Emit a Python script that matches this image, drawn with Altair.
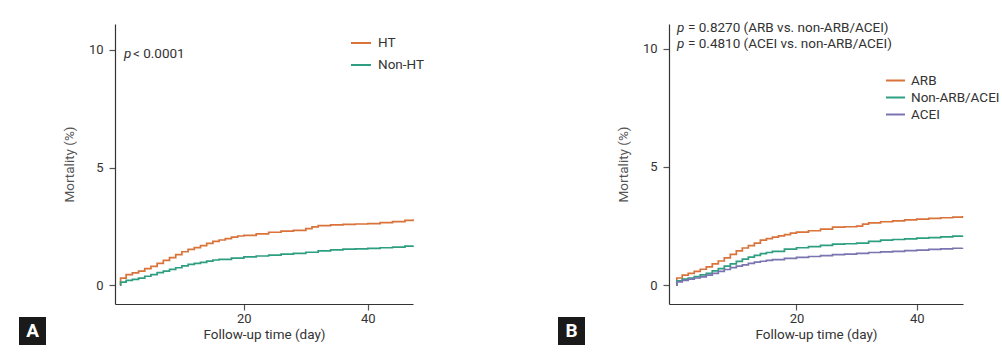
import altair as alt
import pandas as pd

FONT = "Roboto"
TXT = "#333333"

# ---- Panel A data (cumulative mortality %, step curves) ----
a_groups = ["HT", "Non-HT"]
ht_t = [0, 0.1, 1, 2, 3, 4, 5, 6, 7, 8, 9, 10, 11, 12, 13, 14, 15, 16, 17, 18, 19, 20,
        22, 24, 26, 28, 30, 31, 32, 34, 36, 38, 40, 42, 44, 46, 47.3]
ht_v = [0, 0.3, 0.45, 0.52, 0.6, 0.7, 0.8, 0.93, 1.05, 1.17, 1.3, 1.42, 1.52, 1.6, 1.68, 1.78,
        1.86, 1.92, 1.98, 2.04, 2.09, 2.12, 2.18, 2.25, 2.3, 2.33, 2.4, 2.48, 2.53, 2.56, 2.58,
        2.6, 2.62, 2.66, 2.7, 2.75, 2.8]
nht_t = [0, 0.1, 1, 2, 3, 4, 5, 6, 7, 8, 9, 10, 11, 12, 13, 14, 15, 16, 18, 20, 22, 24, 26,
         28, 30, 32, 34, 36, 38, 40, 42, 44, 46, 47.3]
nht_v = [0, 0.13, 0.2, 0.25, 0.3, 0.38, 0.45, 0.53, 0.6, 0.67, 0.74, 0.82, 0.88, 0.93, 0.97,
         1.02, 1.07, 1.1, 1.15, 1.2, 1.24, 1.28, 1.32, 1.35, 1.4, 1.46, 1.5, 1.53, 1.54, 1.56,
         1.59, 1.62, 1.66, 1.69]

# ---- Panel B data ----
b_groups = ["ARB", "Non-ARB/ACEI", "ACEI"]
arb_t = [0, 0.1, 1, 2, 3, 4, 5, 6, 7, 8, 9, 10, 11, 12, 13, 14, 15, 16, 17, 18, 19, 20, 22,
         24, 26, 28, 30, 31, 32, 34, 36, 38, 40, 42, 44, 46, 47.6]
arb_v = [0, 0.3, 0.42, 0.5, 0.58, 0.67, 0.77, 0.9, 1.02, 1.15, 1.3, 1.45, 1.57, 1.67, 1.78,
         1.9, 1.97, 2.03, 2.08, 2.14, 2.2, 2.24, 2.3, 2.37, 2.45, 2.47, 2.5, 2.58, 2.63, 2.68,
         2.72, 2.76, 2.79, 2.82, 2.85, 2.88, 2.92]
non_t = [0, 0.1, 1, 2, 3, 4, 5, 6, 7, 8, 9, 10, 11, 12, 13, 14, 15, 16, 18, 20, 22, 24, 26,
         28, 30, 32, 34, 36, 38, 40, 42, 44, 46, 47.6]
non_v = [0, 0.18, 0.25, 0.3, 0.36, 0.43, 0.5, 0.6, 0.7, 0.8, 0.9, 1.0, 1.1, 1.18, 1.26, 1.33,
         1.38, 1.43, 1.52, 1.58, 1.63, 1.68, 1.73, 1.75, 1.78, 1.85, 1.9, 1.93, 1.96, 1.99,
         2.01, 2.04, 2.07, 2.1]
acei_t = [0, 0.1, 1, 2, 3, 4, 5, 6, 7, 8, 9, 10, 11, 12, 13, 14, 15, 16, 18, 20, 22, 24, 26,
          28, 30, 32, 34, 36, 38, 40, 42, 44, 46, 47.6]
acei_v = [0, 0.14, 0.2, 0.25, 0.3, 0.35, 0.42, 0.5, 0.58, 0.66, 0.74, 0.8, 0.86, 0.92, 0.97,
          1.01, 1.05, 1.08, 1.13, 1.17, 1.21, 1.25, 1.29, 1.31, 1.34, 1.38, 1.41, 1.43, 1.46,
          1.48, 1.51, 1.53, 1.56, 1.58]

colors_a = ["#D9733A", "#2E9E80"]
colors_b = ["#D9733A", "#2E9E80", "#7A74B0"]

x_ticks = [20, 40]
y_ticks = [0, 5, 10]


def frame(groups, ts, vs):
    rows = []
    for g, t, v in zip(groups, ts, vs):
        for ti, vi in zip(t, v):
            rows.append({"group": g, "time": ti, "mort": vi})
    return pd.DataFrame(rows)


df_a = frame(a_groups, [ht_t, nht_t], [ht_v, nht_v])
df_b = frame(b_groups, [arb_t, non_t, acei_t], [arb_v, non_v, acei_v])


def axes(xdom, ydom):
    xenc = alt.X("time:Q", scale=alt.Scale(domain=xdom, nice=False, zero=False),
                 axis=alt.Axis(values=x_ticks, title="Follow-up time (day)", grid=False,
                               tickSize=6, labelPadding=2, titlePadding=2))
    yenc = alt.Y("mort:Q", scale=alt.Scale(domain=ydom, nice=False, zero=False),
                 axis=alt.Axis(values=y_ticks, title="Mortality (%)", grid=False,
                               tickSize=6, labelPadding=6, titlePadding=12,
                               titleColor="#555555"))
    return xenc, yenc


def panel(df, groups, colors, xdom, ydom, legend, letter, letter_x, notes, w, h):
    xenc, yenc = axes(xdom, ydom)
    lines = alt.Chart(df).mark_line(interpolate="step-after", strokeWidth=1.7).encode(
        x=xenc, y=yenc,
        color=alt.Color("group:N", scale=alt.Scale(domain=groups, range=colors),
                        sort=groups, legend=legend),
        detail="group:N",
    )
    layers = [lines]
    # panel letter box
    box = alt.Chart().mark_rect(color="#1a1a1a").encode(
        x=alt.value(letter_x), x2=alt.value(letter_x + 27),
        y=alt.value(h + 13), y2=alt.value(h + 41))
    lab = alt.Chart().mark_text(text=letter, color="white", font=FONT, fontSize=19,
                                fontWeight="bold").encode(
        x=alt.value(letter_x + 13.5), y=alt.value(h + 27))
    layers += [box, lab]
    for (txt, x, y, italic) in notes:
        layers.append(alt.Chart().mark_text(text=txt, font=FONT, fontSize=13.5, color=TXT,
                                            align="left", baseline="middle",
                                            fontStyle="italic" if italic else "normal").encode(
            x=alt.value(x), y=alt.value(y)))
    return alt.layer(*layers).properties(width=w, height=h)


leg_a = alt.Legend(orient="none", legendX=235, legendY=8, title=None, symbolType="stroke",
                   symbolSize=400, symbolStrokeWidth=2, labelFont=FONT, labelFontSize=13.5,
                   labelColor=TXT, rowPadding=4, labelOffset=6)
leg_b = alt.Legend(orient="none", legendX=216, legendY=46, title=None, symbolType="stroke",
                   symbolSize=361, symbolStrokeWidth=2, labelFont=FONT, labelFontSize=13.5,
                   labelColor=TXT, rowPadding=-1, labelOffset=5)

notes_a = [("p", 9, 30, True), ("< 0.0001", 18, 30, False)]
notes_b = [("p", 8, 4, True), ("= 0.8270 (ARB vs. non-ARB/ACEI)", 19, 4, False),
           ("p", 8, 20, True), ("= 0.4810 (ACEI vs. non-ARB/ACEI)", 19, 20, False)]

pa = panel(df_a, a_groups, colors_a, [-0.8, 47.3], [-0.8, 11.1], leg_a, "A", -96, notes_a,
           298, 280)
pb = panel(df_b, b_groups, colors_b, [-1.2, 47.7], [-0.8, 11.05], leg_b, "B", -111, notes_b,
           294, 280)

chart = alt.hconcat(pa, pb, spacing=256, bounds="flush").resolve_scale(
    color="independent").properties(
    padding={"left": 19, "top": 21, "right": 0, "bottom": 0}
).configure_view(stroke=None).configure_axis(
    domainColor="#333333", tickColor="#555555", labelColor=TXT, titleColor=TXT,
    labelFont=FONT, titleFont=FONT, labelFontSize=13, titleFontSize=13.5,
    titleFontWeight="normal", domainWidth=1.2, tickWidth=1.2
)

chart.save("out.html", embed_options={"renderer": "svg", "actions": False})
